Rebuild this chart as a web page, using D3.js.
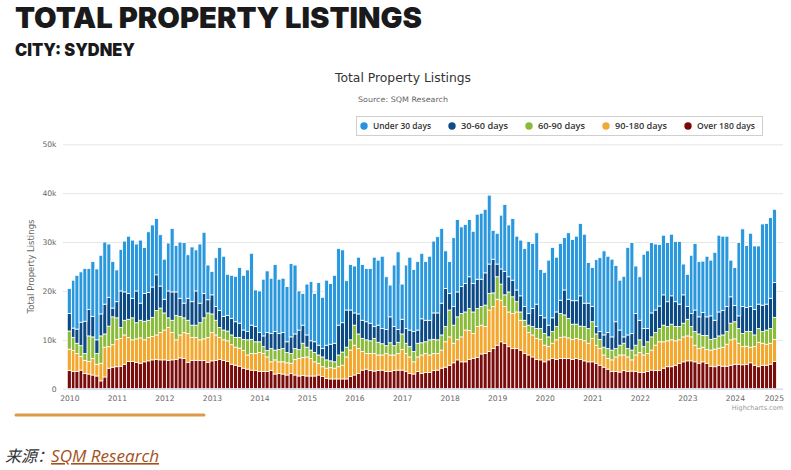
<!DOCTYPE html>
<html>
<head>
<meta charset="utf-8">
<script src="https://cdn.jsdelivr.net/npm/d3@7"></script>
<style>
html,body{margin:0;padding:0;background:#fff;}
svg{display:block;}
</style>
</head>
<body>
<svg id="chart" width="791" height="470"></svg>
<script>
// ---------------- DATA (listings, thousands) ----------------
const seriesNames = ["Under 30 days", "30-60 days", "60-90 days", "90-180 days", "Over 180 days"];
const firstMonth = [2010, 0];   // Jan 2010, one value per month

const under30 = [
 5.1, 9.8,11.0,10.3,10.8, 8.4,11.2,14.5,12.0,12.7,
10.9, 9.5, 6.5, 8.5,10.4,11.7,11.9, 9.6,12.9, 9.4,
12.4,12.7,11.5,10.5, 8.2, 9.8,13.0, 9.5,11.5,12.4,
 8.9,11.2, 8.4,12.1,12.5, 7.1, 4.8,10.0,12.9,12.3,
 8.4, 8.8, 9.3,11.4,11.2,12.6,14.7, 7.5, 8.5,11.6,
12.6,11.3,13.7,11.1,11.1,11.3,15.0,14.1, 8.0, 6.5,
10.4,12.1, 9.9,12.8,10.5,13.3,12.4,13.9,15.7,14.9,
 6.0, 9.3, 9.6,11.6,11.4,10.9,11.2,14.2,13.3,14.8,
10.8, 6.5,12.6,15.9, 7.2,13.0,14.9,12.7,14.0,13.4,
12.0,13.1,14.7,15.6,15.3, 7.7, 6.5,14.1,14.8,12.2,
12.1,11.7,10.7,13.3,13.5,13.0,14.1, 5.9, 6.3,11.0,
13.7,10.6,12.6,11.0,11.4,11.9,14.7,13.3,14.6, 9.4,
 9.3,13.3,14.4,11.2,11.6,10.7,13.6,12.5,13.2,14.8,
14.1, 8.3, 8.0,13.7,15.1,17.2,15.6,15.9,11.5,10.2,
12.4,17.9,18.6, 9.7, 8.9,15.2,15.9,14.4,13.5,12.6,
12.2,12.1,12.6,12.3,12.8, 6.3, 6.6,11.9,13.6,11.3,
10.5,12.4,11.4,13.9,15.7,15.2,14.4, 7.5, 7.8,15.0,
15.9,12.7,15.0,13.0,11.9,16.6,16.5,16.5,15.0];

const days30to60 = [
3.6,1.9,2.9,4.8,6.6,5.4,4.2,2.8,4.5,6.1,
5.9,1.8,3.3,7.5,5.8,5.3,4.0,6.5,3.5,5.7,
5.7,6.2,7.3,4.5,2.8,5.5,5.8,4.8,3.7,3.0,
4.5,4.8,7.0,4.0,5.0,2.7,3.9,2.8,3.5,2.8,
3.2,3.4,3.2,2.9,1.9,1.7,2.9,3.1,1.9,2.2,
3.7,3.1,3.8,3.3,3.3,2.2,3.4,3.0,4.0,3.7,
2.5,1.9,2.2,2.0,1.7,3.0,3.4,3.8,6.1,6.0,
7.6,6.1,2.5,4.1,3.7,3.7,3.6,2.4,3.5,3.1,
3.3,5.3,3.9,2.6,3.0,3.0,3.4,4.1,2.7,4.9,
4.4,4.0,5.4,5.5,6.5,7.8,3.4,3.8,5.1,5.5,
5.8,6.5,5.8,6.0,5.6,6.6,6.0,6.9,2.6,3.1,
4.8,3.1,3.4,2.4,3.3,2.8,2.4,3.7,5.0,2.7,
3.2,2.4,2.8,3.0,2.7,5.1,3.9,4.8,4.8,6.2,
4.8,5.2,3.1,1.5,1.6,2.5,3.3,2.7,5.5,3.1,
1.3,2.8,3.4,6.5,4.0,3.7,2.7,4.9,4.6,4.6,
6.2,5.1,5.8,5.1,4.6,5.8,2.6,2.7,4.4,3.5,
4.7,3.8,4.8,3.7,4.9,5.0,5.1,5.4,3.3,2.6,
5.5,4.9,5.1,5.2,5.0,5.4,5.3,6.2,7.1];

const days60to90 = [
3.7,2.7,2.1,2.2,1.4,5.2,4.4,2.2,5.6,2.7,
4.2,5.7,4.4,2.2,3.0,3.7,4.5,3.3,3.6,3.8,
3.5,3.9,5.0,5.0,3.5,2.0,2.5,5.0,3.8,3.0,
2.7,2.5,2.5,3.5,4.3,5.0,3.8,3.0,2.0,2.0,
2.0,2.0,2.0,2.2,2.3,3.1,2.9,2.4,2.2,1.4,
1.3,2.7,2.0,2.5,2.7,2.1,2.0,2.2,1.8,2.9,
2.0,1.7,1.9,1.7,2.0,1.7,1.4,1.3,2.4,2.7,
2.0,2.1,4.1,3.0,2.7,2.8,2.6,3.1,2.6,2.3,
1.6,2.5,1.9,2.3,3.2,2.1,2.1,2.1,2.8,2.5,
2.4,3.1,2.9,2.8,3.1,3.1,5.5,3.7,4.6,4.8,
3.7,4.5,4.4,3.7,3.8,4.4,3.4,2.8,4.6,3.3,
2.4,4.1,3.4,2.1,1.7,1.3,1.5,1.7,2.0,2.2,
2.4,2.0,2.4,2.7,4.9,4.5,4.0,3.1,2.9,2.7,
2.9,3.0,3.4,2.3,1.9,1.6,2.0,2.0,1.7,2.0,
2.4,1.7,2.0,2.0,2.6,1.7,2.4,2.7,2.6,2.7,
3.4,2.9,3.2,2.9,2.7,2.8,3.4,2.1,2.8,3.0,
2.4,2.9,2.2,2.2,2.5,2.5,2.6,3.4,3.5,3.0,
2.7,3.0,3.2,2.4,2.8,2.4,2.9,3.0,4.5];

const days90to180 = [
4.4,4.3,3.7,2.8,2.7,2.6,3.4,2.4,3.6,6.1,
4.4,4.6,5.6,5.7,6.0,4.9,4.4,4.8,5.2,4.5,
4.8,4.8,5.0,5.6,6.1,6.7,5.6,4.0,4.7,5.3,
5.9,4.7,4.7,4.2,4.4,5.1,5.8,5.2,4.5,4.2,
4.2,4.0,3.7,3.7,3.6,2.9,3.4,3.5,3.9,3.7,
3.0,1.8,2.9,2.4,2.5,2.5,2.1,3.2,3.6,3.7,
3.9,3.6,2.9,2.4,2.0,2.1,2.3,2.2,2.5,2.8,
4.5,5.4,6.1,5.1,3.8,3.2,3.5,3.6,3.2,3.1,
3.7,3.4,3.2,3.4,4.2,3.7,3.4,2.5,3.0,3.8,
3.9,3.6,3.5,3.4,3.7,5.2,5.8,4.0,4.2,5.1,
6.5,5.9,5.1,6.3,5.9,5.5,8.5,8.6,9.4,8.5,
7.5,7.1,7.2,7.5,6.1,5.5,4.6,4.5,4.3,4.2,
3.4,2.7,3.1,4.0,4.3,4.4,4.2,4.1,4.1,4.1,
4.1,3.8,4.8,3.7,3.4,2.5,2.2,2.4,3.0,3.5,
3.2,3.0,2.3,3.4,4.1,3.6,3.7,4.1,5.2,5.9,
5.4,5.3,5.5,5.0,4.8,5.1,5.1,4.9,3.4,3.0,
3.0,2.8,3.3,3.6,3.5,3.9,4.5,5.2,5.2,4.3,
3.7,3.7,3.2,3.8,5.0,4.5,4.3,4.3,4.5];

const over180 = [
3.7,3.5,3.5,3.8,3.1,3.0,2.8,2.6,1.6,2.4,
4.2,4.4,4.5,4.6,5.0,5.6,5.6,5.4,5.2,5.5,
5.7,5.9,6.0,5.9,5.9,5.8,5.9,6.0,6.3,6.2,
5.4,5.8,5.8,5.8,5.8,5.4,5.7,5.8,6.0,5.8,
5.6,5.0,4.8,4.6,4.2,4.0,3.8,3.7,3.5,3.5,
3.5,3.7,3.0,3.1,3.0,2.8,3.1,2.8,2.6,2.7,
2.6,2.6,2.6,2.8,2.5,2.1,2.0,2.0,2.0,2.0,
2.0,2.5,2.8,3.1,3.8,4.0,3.7,3.6,3.7,3.8,
3.5,3.5,3.7,3.8,3.8,3.5,3.1,3.0,3.5,3.1,
3.3,3.3,3.7,3.8,4.2,4.4,4.8,5.3,5.9,5.5,
5.5,6.0,6.2,6.4,7.1,7.2,7.6,8.2,8.9,9.6,
9.3,8.6,8.2,8.2,7.9,7.2,6.9,6.5,6.0,5.9,
5.5,5.9,6.2,6.0,6.2,6.2,6.2,6.0,6.2,6.0,
5.7,5.5,5.5,5.2,4.8,4.4,4.0,3.5,3.5,3.4,
3.7,3.5,3.6,3.5,3.3,3.3,3.5,3.8,3.7,3.7,
4.2,4.5,4.5,4.8,5.2,5.5,5.7,5.7,5.5,5.2,
5.5,5.2,4.6,4.5,4.8,4.6,4.6,4.8,5.0,5.0,
4.9,5.0,5.3,4.8,4.5,4.8,4.8,5.0,5.6];

const yTickValues = [0, 10, 20, 30, 40, 50];
const yTickLabels = ["0", "10k", "20k", "30k", "40k", "50k"];
const xTickLabels = ["2010","2011","2012","2013","2014","2015","2016","2017",
                     "2018","2019","2020","2021","2022","2023","2024","2025"];

// ---------------- STYLE ----------------
const colors = ["#2b98de", "#0c4a85", "#8bbb3b", "#f3a72c", "#7a0c0c"];
const legendColors = ["#2594e0", "#0d4a87", "#8cb83c", "#f2a834", "#7a0606"];
const legendTextW = [58, 47, 47, 52, 58];
const plot = {left: 63, right: 783, top: 144.3, bottom: 388.7};
const chartFont = "'DejaVu Sans', Verdana, sans-serif";

// ---------------- BUILD ----------------
const keys = ["over180", "d90", "d60", "d30", "u30"]; // bottom -> top
const keyColor = {u30: colors[0], d30: colors[1], d60: colors[2], d90: colors[3], over180: colors[4]};

const start = new Date(firstMonth[0], firstMonth[1], 1);
const months = d3.timeMonth.range(start, d3.timeMonth.offset(start, under30.length));
const table = months.map((m, i) => ({
  month: m, u30: under30[i], d30: days30to60[i], d60: days60to90[i], d90: days90to180[i], over180: over180[i]
}));

const svg = d3.select("#chart");

const x = d3.scaleTime()
  .domain([new Date(+xTickLabels[0], 0, 1), new Date(+xTickLabels[xTickLabels.length - 1], 0, 1)])
  .range([69.3, 782.5]);
const y = d3.scaleLinear().domain([0, 50]).range([plot.bottom, plot.top]);

// Headline texts
svg.append("text").attr("x", 15).attr("y", 28.3)
  .attr("textLength", 407).attr("lengthAdjust", "spacingAndGlyphs")
  .style("font-family", "Inter, 'Open Sans', sans-serif").style("font-weight", 900)
  .style("font-size", "29px").style("fill", "#1a1a1c")
  .text("TOTAL PROPERTY LISTINGS");
svg.append("text").attr("x", 15).attr("y", 56)
  .attr("textLength", 120).attr("lengthAdjust", "spacingAndGlyphs")
  .style("font-family", "Inter, 'Open Sans', sans-serif").style("font-weight", 900)
  .style("font-size", "17.5px").style("fill", "#1a1a1c")
  .text("CITY: SYDNEY");

// Chart title / subtitle
svg.append("text").attr("x", 403).attr("y", 82).attr("text-anchor", "middle")
  .attr("textLength", 136).attr("lengthAdjust", "spacingAndGlyphs")
  .style("font-family", chartFont).style("font-size", "12.5px").style("fill", "#333")
  .text("Total Property Listings");
svg.append("text").attr("x", 403).attr("y", 101.5).attr("text-anchor", "middle")
  .attr("textLength", 90).attr("lengthAdjust", "spacingAndGlyphs")
  .style("font-family", chartFont).style("font-size", "7.5px").style("fill", "#666")
  .text("Source: SQM Research");

// Legend
const legend = svg.append("g");
legend.append("rect").attr("x", 356.5).attr("y", 116.5).attr("width", 406).attr("height", 19)
  .attr("fill", "#fff").attr("stroke", "#cfcfcf").attr("stroke-width", 1);
let lx = 360;
seriesNames.forEach((name, i) => {
  legend.append("circle").attr("cx", lx + 4).attr("cy", 126).attr("r", 3.7).attr("fill", legendColors[i]);
  legend.append("text").attr("x", lx + 13).attr("y", 129)
    .attr("textLength", legendTextW[i]).attr("lengthAdjust", "spacingAndGlyphs")
    .style("font-family", "'Open Sans', sans-serif").style("font-weight", 600)
    .style("font-size", "9px").style("fill", "#333").text(name);
  lx += 13 + legendTextW[i] + 17;
});

// Y axis with gridlines
const yAxis = d3.axisLeft(y).tickValues(yTickValues)
  .tickFormat((d, i) => yTickLabels[i])
  .tickSize(-(plot.right - plot.left)).tickPadding(6.5);
const gy = svg.append("g").attr("transform", `translate(${plot.left},0)`).call(yAxis);
gy.select(".domain").remove();
gy.selectAll(".tick line").attr("stroke", "#e6e6e6").attr("stroke-width", 1);
gy.selectAll(".tick text").style("font-family", chartFont).style("font-size", "7.6px").style("fill", "#666");

// Y axis title
svg.append("text")
  .attr("transform", `translate(33.5,${(plot.top + plot.bottom) / 2}) rotate(-90)`)
  .attr("text-anchor", "middle")
  .attr("textLength", 94).attr("lengthAdjust", "spacingAndGlyphs")
  .style("font-family", chartFont).style("font-size", "8.4px").style("fill", "#666")
  .text("Total Property Listings");

// Stacked columns
const stacked = d3.stack().keys(keys)(table);
const bars = svg.append("g");
stacked.forEach(layer => {
  bars.append("g").attr("fill", keyColor[layer.key])
    .selectAll("rect").data(layer).join("rect")
    .attr("x", d => { const a = x(d.data.month), b = x(d3.timeMonth.offset(d.data.month, 1)); return a - (b - a) / 2; })
    .attr("width", d => x(d3.timeMonth.offset(d.data.month, 1)) - x(d.data.month))
    .attr("y", d => y(d[1]))
    .attr("height", d => Math.max(0, y(d[0]) - y(d[1])))
    .attr("stroke", "#fff").attr("stroke-width", 0.8);
});

// X axis
const xAxis = d3.axisBottom(x)
  .tickValues(xTickLabels.map(s => new Date(+s, 0, 1)))
  .tickFormat((d, i) => xTickLabels[i]).tickSize(0).tickPadding(7);
const gx = svg.append("g").attr("transform", `translate(0,${plot.bottom})`).call(xAxis);
gx.select(".domain").attr("stroke", "#ccd6eb");
gx.selectAll(".tick text").style("font-family", chartFont).style("font-size", "7.6px").style("fill", "#666");
// keep last label inside the chart, like Highcharts does
gx.selectAll(".tick text").each(function () {
  const t = d3.select(this);
  const w = this.getComputedTextLength();
  const tx = +this.parentNode.getAttribute("transform").match(/translate\(([-\d.]+)/)[1];
  if (tx + w / 2 > 784) t.attr("x", 784 - w / 2 - tx);
});

// Credits
svg.append("text").attr("x", 783).attr("y", 410).attr("text-anchor", "end")
  .style("font-family", chartFont).style("font-size", "6.5px").style("fill", "#999")
  .text("Highcharts.com");

// Decorative rule
svg.append("line").attr("x1", 16).attr("x2", 204).attr("y1", 415).attr("y2", 415)
  .attr("stroke", "#dc9a48").attr("stroke-width", 3).attr("stroke-linecap", "round");

// Source line
const src = svg.append("text").attr("x", 5).attr("y", 462).style("font-size", "16px").style("font-style", "italic");
src.append("tspan").style("font-family", "'Noto Sans CJK SC', sans-serif").style("fill", "#333").text("来源：");
src.append("tspan").attr("dx", -2).attr("textLength", 108).attr("lengthAdjust", "spacingAndGlyphs")
  .style("font-family", "'Open Sans', sans-serif").style("fill", "#a4521c")
  .style("text-decoration", "underline").text("SQM Research");
</script>
</body>
</html>
